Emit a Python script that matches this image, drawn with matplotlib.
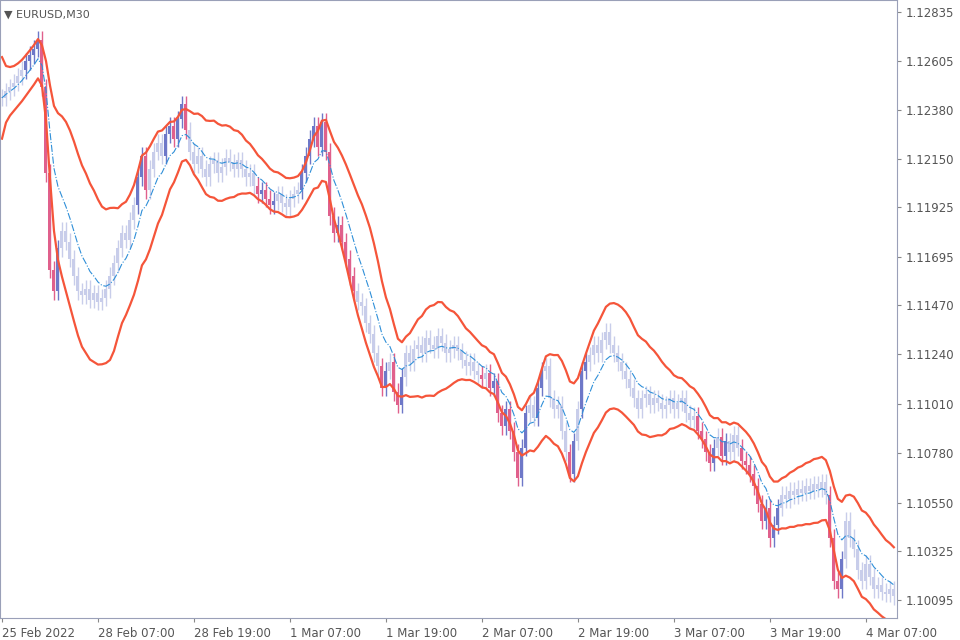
import matplotlib
matplotlib.use("Agg")
import matplotlib.pyplot as plt
import numpy as np
import pandas as pd

# closes in chart units: price = 1.12835 - (2835 - v) * 1e-4
close_units = [2795,2798,2800,2802,2805,2808,2812,2815,2818,2822,
 2800,2760,2715,2705,
 2725,2733,2728,2720,2712,2705,
 2703,2706,2701,2704,2700,2702,2706,
 2712,2718,2725,2732,2729,
 2738,2745,2758,2768,2752,2762,
 2770,2774,2768,2778,2782,2776,2785,2792,2780,
 2770,2764,2768,2762,2758,2764,2766,2760,2763,2767,2765,2762,2766,
 2762,2758,2760,2754,2750,2752,2748,2745,2747,2750,2746,2744,2748,2750,2752,
 2760,2768,2776,2782,2772,2784,
 2770,2740,2732,2736,2728,2720,2712,2705,2700,
 2698,2690,2685,2676,2670,2660,2668,2672,2658,2652,
 2665,2676,2672,2678,2680,2676,2683,2680,2678,2684,2681,2676,2678,2680,2677,
 2673,2670,2672,2668,2666,2664,2667,2660,2663,2648,
 2642,2650,2640,2630,2618,2632,2648,
 2652,2646,2660,2668,2670,2655,2650,
 2652,2640,2630,2620,2635,2650,2668,
 2672,2675,2680,2676,2682,2686,2680,2676,2672,2668,
 2664,2660,2655,2650,2655,2657,2652,2655,2653,2650,
 2652,2655,2650,2653,2655,2648,2645,2647,2640,2636,
 2630,2625,2632,2637,2628,2635,2630,2638,2632,2626,
 2624,2620,2614,2606,2598,2604,2590,2596,
 2604,2610,2608,2612,2610,2613,2611,2614,2612,2615,2613,2616,2610,2590,
 2570,2566,2580,2598,2590,2585,2575,2570,2578,
 2572,2566,2568,2565,2564,2566,2563]
wick = 0.0004
price_ticks = [1.12835,1.12605,1.12380,1.12150,1.11925,1.11695,1.11470,1.11240,1.11010,1.10780,1.10550,1.10325,1.10095]
date_labels = ["25 Feb 2022","28 Feb 07:00","28 Feb 19:00","1 Mar 07:00","1 Mar 19:00","2 Mar 07:00","2 Mar 19:00","3 Mar 07:00","3 Mar 19:00","4 Mar 07:00"]
date_idx = [0,24,48,72,96,120,144,168,192,216]

close = 1.12835 - (2835 - np.array(close_units))*1e-4
opn = np.concatenate([[close[0]], close[:-1]])
hi = np.maximum(opn, close) + wick
lo = np.minimum(opn, close) - wick
s = pd.Series(close)
mid = s.ewm(span=8).mean()
resid = (s - mid)
hw = (1.9*resid.rolling(16, min_periods=1).std().fillna(0.001)).clip(lower=0.0009)
hw = hw.ewm(span=6).mean()
mid = mid.values; hw = hw.values
up = mid + hw
dn = mid - hw

fig = plt.figure(figsize=(9.6,6.4), dpi=100)
ax = fig.add_axes([0.0, 0.034, 0.934, 0.966])
n = len(close)
x = np.arange(n)
for i in range(n):
    out = hi[i] > up[i] or lo[i] < dn[i]
    if out:
        col = '#6e78c8' if close[i] >= opn[i] else '#e0608c'
    else:
        col = '#c8cdea'
    ax.vlines(x[i], lo[i], hi[i], color=col, lw=1)
    b0, b1 = sorted([opn[i], close[i]])
    ax.bar(x[i], max(b1-b0, 0.00004), bottom=b0, width=0.75, color=col, lw=0)
ax.plot(x, up, color='#f5553a', lw=1.6)
ax.plot(x, dn, color='#f5553a', lw=1.6)
ax.plot(x, mid, color='#2f8fd8', lw=0.8, ls='-.')
ax.set_xlim(-0.5, 223.7)
ax.set_ylim(1.10011, 1.12891)
ax.yaxis.tick_right()
ax.set_yticks(price_ticks)
ax.set_yticklabels([f"{p:.5f}" for p in price_ticks], fontsize=8.5, color='#555555')
ax.set_xticks(date_idx)
ax.set_xticklabels(date_labels, fontsize=8.5, color='#555555', ha='left')
ax.tick_params(length=3, color='#888888')
for sp in ax.spines.values():
    sp.set_color('#9aa0b8')
ax.text(0.005, 0.985, "▼ EURUSD,M30", transform=ax.transAxes, fontsize=8, color='#555555', va='top')
fig.savefig("out.png", dpi=100)
